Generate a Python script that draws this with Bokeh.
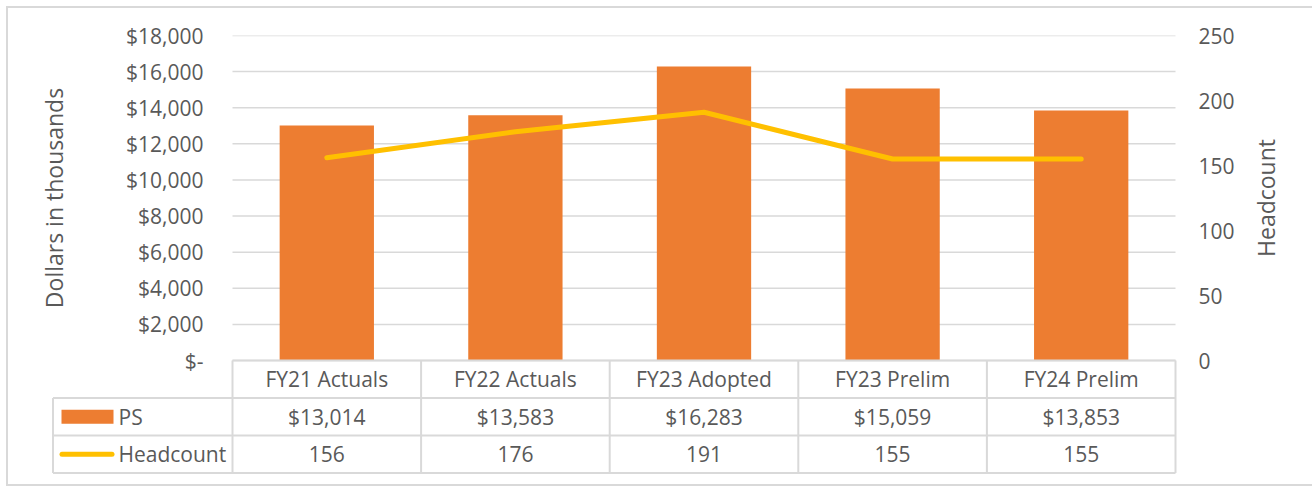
import math
from bokeh.plotting import figure
from bokeh.models import Range1d, LinearAxis, FixedTicker, Label
from bokeh.layouts import column
from bokeh.embed import file_html
from bokeh.resources import INLINE
from bokeh.core.properties import value

# ---------------- data ----------------
categories = ["FY21 Actuals", "FY22 Actuals", "FY23 Adopted", "FY23 Prelim", "FY24 Prelim"]
ps_values = [13014, 13583, 16283, 15059, 13853]
headcount = [156, 176, 191, 155, 155]
series_names = ["PS", "Headcount"]
ps_ticks = [0, 2000, 4000, 6000, 8000, 10000, 12000, 14000, 16000, 18000]
ps_tick_labels = ["$-", "$2,000", "$4,000", "$6,000", "$8,000", "$10,000",
                  "$12,000", "$14,000", "$16,000", "$18,000"]
hc_ticks = [0, 50, 100, 150, 200, 250]
hc_tick_labels = ["0", "50", "100", "150", "200", "250"]
left_title = "Dollars in thousands"
right_title = "Headcount"

# ---------------- style / layout (page pixels) ----------------
FONT = "Open Sans"
GRAY = "#595959"
RULE = "#d9d9d9"
ORANGE = "#ED7D31"
YELLOW = "#FFC000"
FS = "21px"
TITLE_FS = "23px"

ORIGIN = 8                      # page position of the figure's top-left corner
W, H = 1304, 476
FRAME_L, FRAME_R = 36, 1300     # plot frame
FRAME_T, FRAME_B = 35, 474
COL_L, COL_R = 232, 1175        # category columns
LEG_L = 52.5                    # left rule of the table's legend column
ZERO_Y = 360                    # value 0
ROW_PX = 37.5                   # table row height
TABLE_B = 472.5                 # bottom rule of the table
n = len(categories)
CELL_PX = (COL_R - COL_L) / n


def xu(px):                     # page x -> category units (0 .. n)
    return (px - COL_L) / CELL_PX


PS_MAX = ps_ticks[-1]
HC_MAX = hc_ticks[-1]
px_per_ps = (ZERO_Y - FRAME_T) / PS_MAX
ps_lo = -(FRAME_B - ZERO_Y) / px_per_ps
hc_lo = ps_lo * HC_MAX / PS_MAX
tbl_hi = 3 + (ZERO_Y - FRAME_T) / ROW_PX
tbl_lo = -(FRAME_B - TABLE_B) / ROW_PX

p = figure(width=W, height=H,
           x_range=Range1d(xu(FRAME_L), xu(FRAME_R)),
           y_range=Range1d(ps_lo, PS_MAX),
           x_axis_location=None, y_axis_location="left",
           min_border_left=FRAME_L - ORIGIN, min_border_right=ORIGIN + W - FRAME_R,
           min_border_top=FRAME_T - ORIGIN, min_border_bottom=ORIGIN + H - FRAME_B,
           outline_line_color=None, toolbar_location=None,
           output_backend="svg")
p.extra_y_ranges = {"hc": Range1d(hc_lo, HC_MAX), "tbl": Range1d(tbl_lo, tbl_hi)}
p.grid.visible = False

la = p.yaxis[0]
la.ticker = FixedTicker(ticks=ps_ticks)
la.major_label_overrides = {t: l for t, l in zip(ps_ticks, ps_tick_labels)}
ra = LinearAxis(y_range_name="hc", ticker=FixedTicker(ticks=hc_ticks))
ra.major_label_overrides = {t: l for t, l in zip(hc_ticks, hc_tick_labels)}
p.add_layout(ra, "right")

# tick labels sit inside the wide frame: right edge at x=203 (left), left edge at x=1198 (right)
for ax, stand in ((la, 203 - FRAME_L), (ra, FRAME_R - 1198)):
    ax.axis_line_color = None
    ax.major_tick_line_color = None
    ax.minor_tick_line_color = None
    ax.major_tick_out = 0
    ax.major_tick_in = 0
    ax.major_label_standoff = -stand
    ax.major_label_text_font = FONT
    ax.major_label_text_font_size = FS
    ax.major_label_text_color = GRAY

# horizontal gridlines across the category columns
p.segment(x0=[0] * len(ps_ticks), y0=ps_ticks, x1=[n] * len(ps_ticks), y1=ps_ticks,
          line_color=RULE, line_width=1.5)

# axis titles (rotated, reading bottom to top), centred on the value range
for title, px in ((left_title, 53), (right_title, 1265)):
    p.add_layout(Label(x=px - FRAME_L, x_units="screen", y=PS_MAX / 2, y_units="data",
                       text=title, angle=math.pi / 2, text_align="center",
                       text_baseline="middle", text_font=FONT,
                       text_font_size=TITLE_FS, text_color=GRAY))

# ---------------- series ----------------
col_x = [i + 0.5 for i in range(n)]
p.vbar(x=col_x, top=ps_values, width=0.5, fill_color=ORANGE, line_color=None)
p.line(x=col_x, y=headcount, y_range_name="hc", line_color=YELLOW,
       line_width=5, line_cap="round", line_join="round")

# ---------------- data table ----------------
leg_x = xu(LEG_L)
p.segment(x0=[0], y0=[3], x1=[n], y1=[3], y_range_name="tbl", line_color=RULE, line_width=2)
p.segment(x0=[leg_x] * 3, y0=[2, 1, 0], x1=[n] * 3, y1=[2, 1, 0],
          y_range_name="tbl", line_color=RULE, line_width=2)
p.segment(x0=[leg_x], y0=[0], x1=[leg_x], y1=[2], y_range_name="tbl",
          line_color=RULE, line_width=2)
p.segment(x0=list(range(n + 1)), y0=[0] * (n + 1), x1=list(range(n + 1)),
          y1=[3] * (n + 1), y_range_name="tbl", line_color=RULE, line_width=2)

txt = dict(text_align="center", text_baseline="middle", text_font=value(FONT),
           text_font_size=FS, text_color=GRAY, y_range_name="tbl")
p.text(x=col_x, y=[2.5] * n, text=categories, **txt)
p.text(x=col_x, y=[1.5] * n, text=[f"${v:,}" for v in ps_values], **txt)
p.text(x=col_x, y=[0.5] * n, text=[str(v) for v in headcount], **txt)

# legend keys and names in the table's first column
p.rect(x=[xu(87)], y=[1.5], width=52, height=14, width_units="screen",
       height_units="screen", fill_color=ORANGE, line_color=None, y_range_name="tbl")
p.segment(x0=[xu(61.5)], y0=[0.5], x1=[xu(111.5)], y1=[0.5], y_range_name="tbl",
          line_color=YELLOW, line_width=5, line_cap="round")
p.text(x=[xu(118)] * 2, y=[1.5, 0.5], text=series_names, text_align="left",
       text_baseline="middle", text_font=value(FONT), text_font_size=FS,
       text_color=GRAY, y_range_name="tbl")

border = "2px solid " + RULE
layout = column(p, styles={"margin-left": "6px", "margin-top": "6px",
                           "border-left": border, "border-top": border,
                           "border-bottom": border})

open("out.html", "w").write(file_html(layout, INLINE))
